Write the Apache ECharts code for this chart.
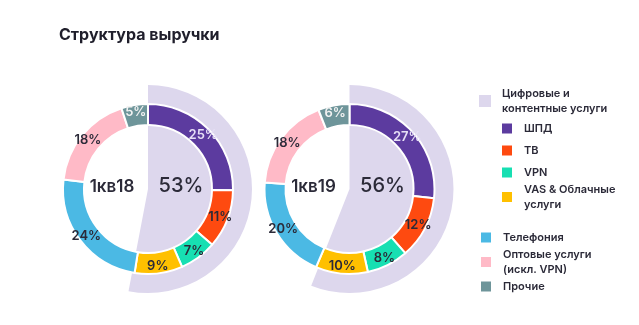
<!DOCTYPE html>
<html>
<head>
<meta charset="utf-8">
<script src="https://cdn.jsdelivr.net/npm/echarts@6/dist/echarts.min.js"></script>
<style>
  html, body { margin: 0; padding: 0; background: #ffffff; }
  #chart { width: 639px; height: 325px; }
</style>
</head>
<body>
<div id="chart"></div>
<script>
// Revenue structure, Q1'18 vs Q1'19 (% of total)
const periods = ['1кв18', '1кв19'];
const segments = ['ШПД', 'ТВ', 'VPN', 'VAS & Облачные услуги', 'Телефония', 'Оптовые услуги (искл. VPN)', 'Прочие'];
const shares18 = [25, 11, 7, 9, 24, 18, 5];
const shares19 = [27, 12, 8, 10, 20, 18, 6];
const digitalName = 'Цифровые и контентные услуги';
const digitalShare = [53, 56];

const segmentColors = ['#5c3b9f', '#fe4a10', '#17dfb2', '#ffc000', '#4bb9e4', '#ffbac7', '#6e959a'];
const digitalColor = '#ddd7ed';
const textDark = '#2b2a38';
const labelColors = ['#e6dff6', textDark, textDark, textDark, textDark, textDark, '#f2f2f2'];

const centers = [[148, 189], [349.5, 189]];
const FONT = 'Inter, "Noto Sans", sans-serif';

const chart = echarts.init(document.getElementById('chart'), null, { renderer: 'canvas' });

const series = [];
const graphic = [];
[shares18, shares19].forEach((shares, i) => {
  // lavender sector for the digital group, underneath the ring
  series.push({
    type: 'pie',
    center: centers[i],
    radius: [0, 104],
    startAngle: 90,
    clockwise: true,
    silent: true,
    label: { show: false },
    labelLine: { show: false },
    emphasis: { disabled: true },
    data: [
      { name: digitalName, value: digitalShare[i], itemStyle: { color: digitalColor } },
      { name: '', value: 100 - digitalShare[i], itemStyle: { color: 'rgba(0,0,0,0)' } }
    ],
    z: 1
  });
  // segment ring
  series.push({
    type: 'pie',
    center: centers[i],
    radius: [64, 85],
    startAngle: 90,
    clockwise: true,
    silent: true,
    emphasis: { disabled: true },
    itemStyle: { borderColor: '#ffffff', borderWidth: 2 },
    label: {
      show: true,
      position: 'inside',
      formatter: '{c}%',
      fontFamily: FONT,
      fontSize: 13,
      fontWeight: 600
    },
    labelLine: { show: false },
    data: segments.map((name, k) => ({
      name,
      value: shares[k],
      itemStyle: { color: segmentColors[k] },
      label: { color: labelColors[k] }
    })),
    z: 2
  });
  graphic.push({
    type: 'text',
    x: centers[i][0] - 36,
    y: centers[i][1] - 2,
    z: 10,
    style: {
      text: periods[i],
      fontFamily: FONT,
      fontSize: 17,
      fontWeight: 600,
      fill: textDark,
      textAlign: 'center',
      textVerticalAlign: 'middle'
    }
  });
  graphic.push({
    type: 'text',
    x: centers[i][0] + 33,
    y: centers[i][1] - 3,
    z: 10,
    style: {
      text: digitalShare[i] + '%',
      fontFamily: FONT,
      fontSize: 20,
      fontWeight: 500,
      fill: textDark,
      textAlign: 'center',
      textVerticalAlign: 'middle'
    }
  });
});

// legend entries: [name, shown text, left, top]
const legendLayout = [
  [digitalName, 'Цифровые и\nконтентные услуги', 479, 86],
  ['ШПД', 'ШПД', 500, 121],
  ['ТВ', 'ТВ', 500, 143],
  ['VPN', 'VPN', 500, 165],
  ['VAS & Облачные услуги', 'VAS & Облачные\nуслуги', 500, 182],
  ['Телефония', 'Телефония', 479, 230],
  ['Оптовые услуги (искл. VPN)', 'Оптовые услуги\n(искл. VPN)', 479, 247],
  ['Прочие', 'Прочие', 479, 279]
];
const legend = legendLayout.map(([name, text, left, top]) => ({
  data: [name],
  left,
  top,
  orient: 'vertical',
  icon: 'rect',
  itemWidth: 12,
  itemHeight: 12,
  selectedMode: false,
  padding: 0,
  formatter: () => text,
  textStyle: {
    fontFamily: FONT,
    fontSize: 11,
    fontWeight: 600,
    color: textDark,
    lineHeight: 15,
    padding: [0, 0, 0, 6]
  }
}));

chart.setOption({
  animation: false,
  backgroundColor: '#ffffff',
  title: {
    text: 'Структура выручки',
    left: 59,
    top: 27,
    padding: 0,
    textStyle: { fontFamily: FONT, fontSize: 16, fontWeight: 700, color: '#1f1e2b' }
  },
  legend,
  graphic,
  series
});
</script>
</body>
</html>
